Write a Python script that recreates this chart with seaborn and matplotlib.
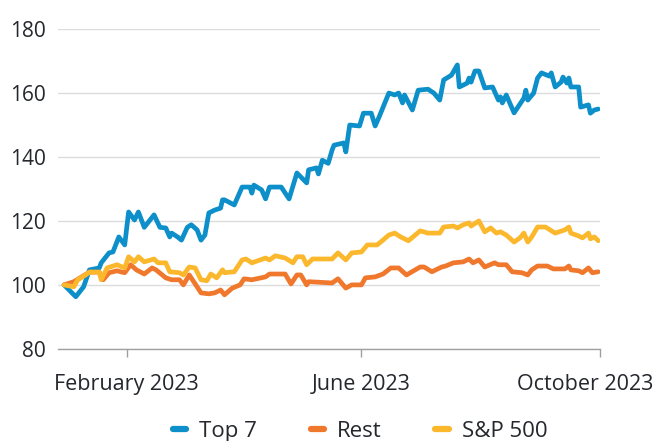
import matplotlib
matplotlib.use("Agg")
import matplotlib.pyplot as plt
import matplotlib.transforms as mtransforms
import seaborn as sns
import pandas as pd
from matplotlib.lines import Line2D

top7_dates = ["2022-12-31","2023-01-06","2023-01-10","2023-01-13","2023-01-18","2023-01-19","2023-01-23","2023-01-25",
    "2023-01-28","2023-01-31","2023-02-02","2023-02-05","2023-02-07","2023-02-10","2023-02-15","2023-02-18",
    "2023-02-21","2023-02-23","2023-02-24","2023-02-27","2023-03-01","2023-03-04","2023-03-06","2023-03-09",
    "2023-03-11","2023-03-13","2023-03-15","2023-03-18","2023-03-21","2023-03-22","2023-03-23","2023-03-28",
    "2023-04-01","2023-04-05","2023-04-06","2023-04-07","2023-04-11","2023-04-13","2023-04-15","2023-04-21",
    "2023-04-25","2023-04-29","2023-05-04","2023-05-05","2023-05-09","2023-05-10","2023-05-12","2023-05-15",
    "2023-05-17","2023-05-18","2023-05-23","2023-05-24","2023-05-26","2023-05-31","2023-06-02","2023-06-06",
    "2023-06-08","2023-06-10","2023-06-15","2023-06-18","2023-06-20","2023-06-22","2023-06-23","2023-06-27",
    "2023-06-30","2023-07-05","2023-07-08","2023-07-11","2023-07-13","2023-07-17","2023-07-20","2023-07-21",
    "2023-07-25","2023-07-26","2023-07-27","2023-07-29","2023-07-31","2023-08-03","2023-08-07","2023-08-10",
    "2023-08-11","2023-08-12","2023-08-14","2023-08-18","2023-08-23","2023-08-24","2023-08-25","2023-08-28",
    "2023-08-30","2023-09-01","2023-09-05","2023-09-06","2023-09-08","2023-09-11","2023-09-12","2023-09-14",
    "2023-09-15","2023-09-16","2023-09-20","2023-09-21","2023-09-25","2023-09-26","2023-09-28","2023-09-30"]
top7_values = [100, 96.3, 99.4, 104.7, 105.3, 106.9, 110, 110.3,
    115, 112.5, 122.8, 120.3, 122.8, 118, 121.9, 118,
    117.8, 115, 116.2, 115, 114, 118, 118.8, 117.2,
    114, 115.6, 122.5, 123.4, 124, 126.6, 126.6, 125,
    130.6, 130.6, 128.7, 131.2, 129.7, 126.9, 130.6, 130.6,
    126.9, 135, 131.9, 136, 136.6, 134.7, 139, 138,
    142.2, 143.7, 144.4, 141.6, 150, 149.7, 153.7, 153.7,
    149.7, 152.5, 160, 159.4, 160, 156.9, 159.4, 154.7,
    160.9, 161.2, 160, 157.8, 164.1, 165.6, 168.8, 161.9,
    163.1, 164.7, 163.4, 166.9, 166.9, 161.6, 161.9, 157.8,
    158.8, 156.9, 159.4, 153.8, 158.4, 160.9, 157.8, 160,
    164.7, 166.3, 165.3, 166.3, 161.9, 163.4, 165, 163.1,
    164.7, 161.9, 161.9, 155.6, 156.3, 153.7, 154.7, 155]

rest_dates = ["2022-12-31","2023-01-05","2023-01-09","2023-01-13","2023-01-18","2023-01-20","2023-01-23","2023-01-27",
    "2023-01-31","2023-02-03","2023-02-06","2023-02-10","2023-02-14","2023-02-16","2023-02-21","2023-02-24",
    "2023-02-28","2023-03-02","2023-03-05","2023-03-09","2023-03-11","2023-03-15","2023-03-18","2023-03-21",
    "2023-03-23","2023-03-27","2023-03-31","2023-04-02","2023-04-06","2023-04-13","2023-04-15","2023-04-23",
    "2023-04-26","2023-04-29","2023-05-01","2023-05-04","2023-05-05","2023-05-17","2023-05-20","2023-05-24",
    "2023-05-27","2023-06-01","2023-06-03","2023-06-08","2023-06-12","2023-06-16","2023-06-20","2023-06-24",
    "2023-07-01","2023-07-03","2023-07-07","2023-07-12","2023-07-14","2023-07-18","2023-07-23","2023-07-26",
    "2023-07-28","2023-07-31","2023-08-03","2023-08-08","2023-08-10","2023-08-14","2023-08-17","2023-08-22",
    "2023-08-25","2023-08-27","2023-08-30","2023-09-04","2023-09-07","2023-09-13","2023-09-15","2023-09-16",
    "2023-09-20","2023-09-22","2023-09-25","2023-09-27","2023-09-30"]
rest_values = [100, 101, 102.5, 104, 104, 101.6, 103.8, 104.4,
    103.8, 106.3, 104.7, 103.4, 105.3, 104.7, 102.2, 101.6,
    101.6, 100, 103.1, 99.4, 97.5, 97.2, 97.5, 98.4,
    96.9, 99, 100, 101.9, 101.6, 102.5, 103.4, 103.4,
    100.3, 103.1, 103.1, 100, 101, 100.6, 101.9, 99,
    100, 100, 102.2, 102.5, 103.4, 105.3, 105.3, 103.1,
    105.6, 105.6, 104.1, 105.6, 105.9, 106.9, 107.2, 108.1,
    106.9, 107.8, 105.6, 106.9, 106.3, 106.3, 104.1, 103.8,
    103.1, 104.7, 105.9, 105.9, 105, 105, 105.9, 104.7,
    104.4, 103.8, 105.3, 103.8, 104.1]

sp500_dates = ["2022-12-31","2023-01-05","2023-01-07","2023-01-11","2023-01-13","2023-01-18","2023-01-19","2023-01-22",
    "2023-01-27","2023-01-31","2023-02-02","2023-02-05","2023-02-07","2023-02-10","2023-02-15","2023-02-17",
    "2023-02-21","2023-02-23","2023-02-28","2023-03-02","2023-03-05","2023-03-08","2023-03-11","2023-03-14",
    "2023-03-16","2023-03-19","2023-03-22","2023-03-23","2023-03-28","2023-04-01","2023-04-03","2023-04-06",
    "2023-04-13","2023-04-15","2023-04-18","2023-04-23","2023-04-27","2023-04-29","2023-05-02","2023-05-04",
    "2023-05-07","2023-05-17","2023-05-20","2023-05-24","2023-05-27","2023-06-01","2023-06-04","2023-06-09",
    "2023-06-12","2023-06-15","2023-06-18","2023-06-21","2023-06-25","2023-07-01","2023-07-05","2023-07-11",
    "2023-07-13","2023-07-18","2023-07-20","2023-07-23","2023-07-26","2023-07-27","2023-07-31","2023-08-03",
    "2023-08-06","2023-08-09","2023-08-11","2023-08-14","2023-08-18","2023-08-21","2023-08-23","2023-08-25",
    "2023-08-27","2023-08-30","2023-09-03","2023-09-08","2023-09-13","2023-09-15","2023-09-16","2023-09-20",
    "2023-09-22","2023-09-25","2023-09-26","2023-09-28","2023-09-30"]
sp500_values = [100, 99.4, 101.6, 103.1, 104, 104, 101.6, 105.3,
    106.3, 105.3, 108.8, 107.2, 108.8, 107.2, 108.1, 106.9,
    106.9, 104.1, 103.8, 103.1, 105.6, 105.3, 101.6, 101.3,
    103.4, 102.2, 104.7, 103.8, 104.1, 107.8, 108.1, 106.9,
    108.4, 107.8, 109.1, 108.4, 106.9, 108.8, 108.8, 106.3,
    108.1, 108.1, 110, 107.8, 110, 110.3, 112.5, 112.5,
    114, 115.6, 116.2, 115, 113.8, 116.9, 116.2, 116.2,
    118.1, 118.4, 117.8, 118.8, 119.4, 118.4, 120, 116.6,
    117.8, 116.2, 116.6, 115.6, 113.4, 114.7, 116.2, 113.4,
    115, 118.1, 118.1, 116.2, 117.2, 118.1, 116.2, 115.3,
    114.7, 116.2, 114.4, 115, 113.8]

series_names = ["Top 7", "Rest", "S&P 500"]
series_colors = ["#0d8fca", "#f0782c", "#fcb82c"]
y_ticks = [80, 100, 120, 140, 160, 180]
x_tick_dates = ["2023-02-01", "2023-06-01", "2023-10-01"]
x_tick_labels = ["February 2023", "June 2023", "October 2023"]

frames = []
for name, d, v in zip(series_names, [top7_dates, rest_dates, sp500_dates],
                      [top7_values, rest_values, sp500_values]):
    frames.append(pd.DataFrame({"date": pd.to_datetime(d), "value": v, "series": name}))
df = pd.concat(frames, ignore_index=True)

sns.set_theme(style="white")
plt.rcParams['font.family'] = ['Open Sans', 'DejaVu Sans']
text_color = "#24272c"

fig = plt.figure(figsize=(6.61, 4.41), dpi=100)
ax = fig.add_axes([0.088, 0.209, 0.82, 0.725])

sns.lineplot(data=df, x="date", y="value", hue="series", hue_order=series_names,
             palette=series_colors, linewidth=3.4, ax=ax, legend=False, sort=True)
for ln in ax.get_lines():
    ln.set_solid_joinstyle("round")
    ln.set_solid_capstyle("round")

ax.set_ylim(80, 180)
ax.set_yticks(y_ticks)
ax.set_xlim(pd.Timestamp("2022-12-28"), pd.Timestamp("2023-10-01"))
ax.set_xticks(pd.to_datetime(x_tick_dates))
ax.set_xticklabels(x_tick_labels)
ax.grid(axis="y", color="#dcdcdc", linewidth=1)
ax.set_axisbelow(True)
for s in ["top", "right", "left"]:
    ax.spines[s].set_visible(False)
ax.spines["bottom"].set_color("#a0a0a0")
ax.spines["bottom"].set_linewidth(1)
ax.tick_params(axis="x", length=6, width=1, color="#a0a0a0", pad=12,
               labelsize=15.5, labelcolor=text_color, direction="out", bottom=True)
ax.tick_params(axis="y", length=0, pad=9, labelsize=15, labelcolor=text_color)
ax.set_xlabel("")
ax.set_ylabel("")

# keep the last date label inside the figure, as in the reference
last = ax.get_xticklabels()[-1]
last.set_transform(last.get_transform() +
                   mtransforms.ScaledTranslation(-0.15, 0, fig.dpi_scale_trans))

handles = [Line2D([0], [0], color=c, linewidth=4.5) for c in series_colors]
fig.legend(handles, series_names, loc="center", bbox_to_anchor=(0.545, 0.022),
           ncol=3, frameon=False, fontsize=16, handlelength=0.6, columnspacing=2.4,
           handletextpad=0.6, labelcolor=text_color)

fig.savefig("out.png", dpi=100)
